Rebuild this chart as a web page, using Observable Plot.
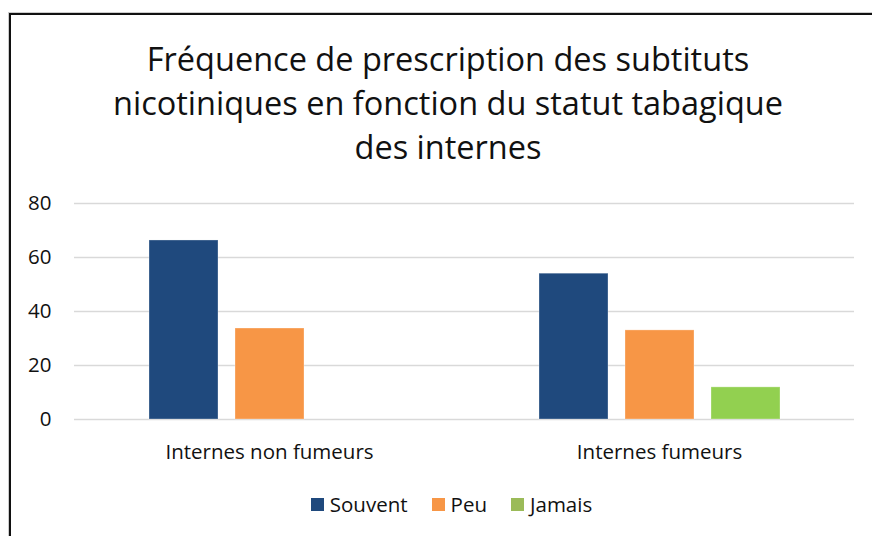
<!DOCTYPE html>
<html>
<head>
<meta charset="utf-8">
<script src="https://cdn.jsdelivr.net/npm/d3@7"></script>
<script src="https://cdn.jsdelivr.net/npm/@observablehq/plot@0.6"></script>
<style>
  html, body { margin: 0; padding: 0; background: #fff; }
  body { width: 872px; height: 536px; overflow: hidden; position: relative; font-family: "Open Sans", "Noto Sans", sans-serif; color: #000; }
  #frame { position: absolute; left: 9px; top: 13px; width: 900px; height: 600px; border-left: 2px solid #111; border-top: 2px solid #111; box-shadow: -1px -1px 0 #ccc; box-sizing: border-box; }
  #title { position: absolute; left: 9px; width: 878px; top: 37px; text-align: center; font-size: 32.5px; line-height: 44px; color: #111; }
  #chart { position: absolute; left: 0; top: 180px; }
  #legend { position: absolute; left: 9px; width: 885px; top: 490px; display: flex; justify-content: center; align-items: center; font-size: 20.5px; color: #111; }
  .item { display: flex; align-items: center; margin: 0 12px; }
  .sw { width: 13px; height: 13px; margin-right: 6px; }
</style>
</head>
<body>
<div id="frame"></div>
<div id="title"></div>
<div id="chart"></div>
<div id="legend"></div>
<script>
const titleLines = ["Fréquence de prescription des subtituts", "nicotiniques en fonction du statut tabagique", "des internes"];
const groups = ["Internes non fumeurs", "Internes fumeurs"];
const statuses = ["Souvent", "Peu", "Jamais"];
const nonFumeurs = [66.3, 33.7, 0];
const fumeurs = [54, 33, 11.9];
const barColors = ["#1f497d", "#f79646", "#92d050"];
const legendColors = ["#1f497d", "#f79646", "#9bbb59"];
const yTicks = [0, 20, 40, 60, 80];

const data = [];
[nonFumeurs, fumeurs].forEach((vals, gi) => {
  vals.forEach((v, si) => data.push({group: groups[gi], status: statuses[si], value: v}));
});

document.getElementById("title").innerHTML = titleLines.join("<br>");

const plot = Plot.plot({
  width: 872,
  height: 290,
  marginLeft: 74,
  marginRight: 18,
  marginTop: 23,
  marginBottom: 51,
  style: {fontFamily: "'Open Sans', 'Noto Sans', sans-serif", fontSize: "20.5px", color: "#111", background: "transparent"},
  fx: {domain: groups, padding: 0},
  x: {domain: statuses, paddingInner: 0.2, paddingOuter: 0.86, axis: null},
  y: {domain: [0, 80], ticks: yTicks},
  color: {domain: statuses, range: barColors},
  marks: [
    Plot.gridY(yTicks, {stroke: "#d9d9d9", strokeOpacity: 1, strokeWidth: 1.5}),
    Plot.barY(data, {filter: d => d.value > 0, fx: "group", x: "status", y: "value", fill: "status", stroke: "#fff", strokeOpacity: 0.3, strokeWidth: 1}),
    Plot.axisY(yTicks, {tickSize: 0, tickPadding: 23, fontSize: 20.5, label: null}),
    Plot.axisFx({anchor: "bottom", tickSize: 0, tickPadding: 25, fontSize: 20.5, label: null})
  ]
});
document.getElementById("chart").appendChild(plot);

const legend = document.getElementById("legend");
statuses.forEach((s, i) => {
  const item = document.createElement("div");
  item.className = "item";
  item.innerHTML = `<div class="sw" style="background:${legendColors[i]}"></div><span>${s}</span>`;
  legend.appendChild(item);
});
</script>
</body>
</html>
